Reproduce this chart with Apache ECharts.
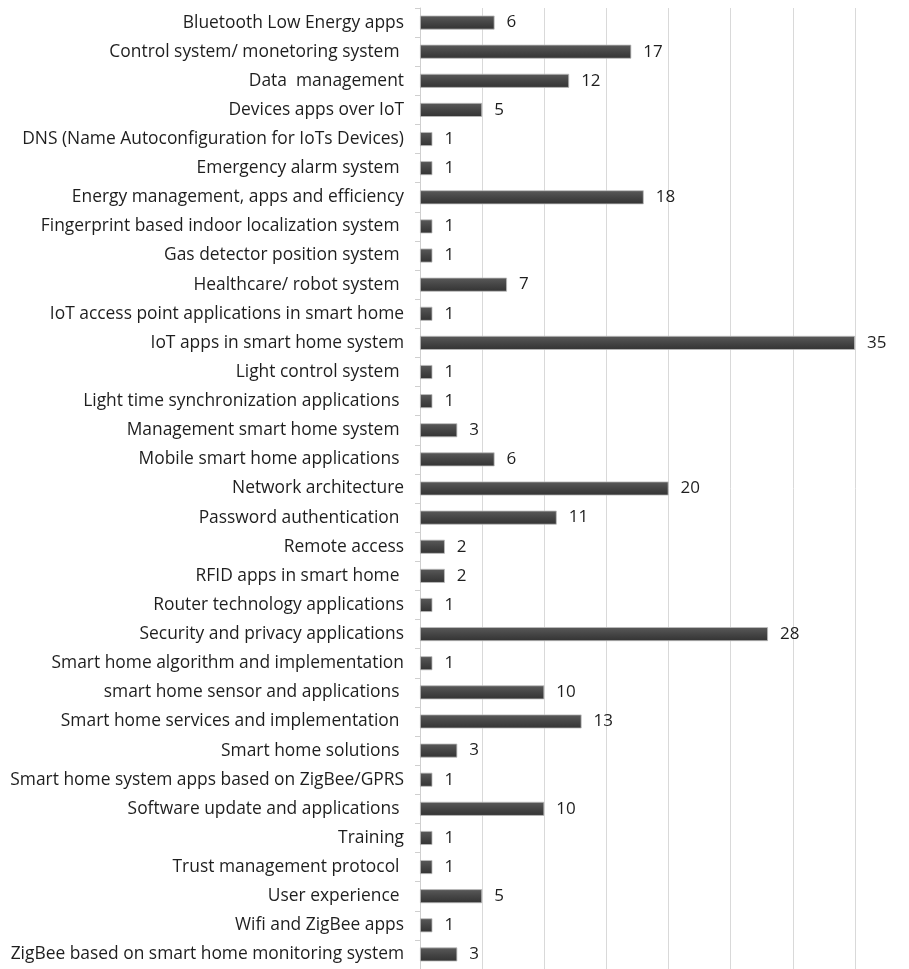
<!DOCTYPE html>
<html>
<head>
<meta charset="utf-8">
<script src="https://cdn.jsdelivr.net/npm/echarts@6/dist/echarts.min.js"></script>
<style>
  html, body { margin: 0; padding: 0; background: #fff; }
  #chart { width: 909px; height: 969px; }
</style>
</head>
<body>
<div id="chart"></div>
<script>
// Application areas, listed top to bottom
const categories = [
  "Bluetooth Low Energy apps",
  "Control system/ monetoring system ",
  "Data  management",
  "Devices apps over IoT",
  "DNS (Name Autoconfiguration for IoTs Devices)",
  "Emergency alarm system ",
  "Energy management, apps and efficiency",
  "Fingerprint based indoor localization system ",
  "Gas detector position system ",
  "Healthcare/ robot system ",
  "IoT access point applications in smart home",
  "IoT apps in smart home system",
  "Light control system ",
  "Light time synchronization applications ",
  "Management smart home system ",
  "Mobile smart home applications ",
  "Network architecture",
  "Password authentication ",
  "Remote access",
  "RFID apps in smart home ",
  "Router technology applications",
  "Security and privacy applications",
  "Smart home algorithm and implementation",
  "smart home sensor and applications ",
  "Smart home services and implementation ",
  "Smart home solutions ",
  "Smart home system apps based on ZigBee/GPRS",
  "Software update and applications ",
  "Training",
  "Trust management protocol ",
  "User experience ",
  "Wifi and ZigBee apps",
  "ZigBee based on smart home monitoring system"
];

// Number of papers per area
const counts = [6, 17, 12, 5, 1, 1, 18, 1, 1, 7, 1, 35, 1, 1, 3, 6, 20, 11, 2, 2, 1, 28, 1, 10, 13, 3, 1, 10, 1, 1, 5, 1, 3];

const FONT = "Open Sans";

const chart = echarts.init(document.getElementById("chart"), null, { renderer: "canvas" });

chart.setOption({
  animation: false,
  backgroundColor: "#ffffff",
  grid: { left: 420, width: 435, top: 8, height: 962, containLabel: false },
  xAxis: {
    type: "value",
    min: 0,
    max: 35,
    interval: 5,
    axisLine: { show: false },
    axisTick: { show: false },
    axisLabel: { show: false },
    splitLine: { show: true, lineStyle: { color: "#d9d9d9", width: 1 } }
  },
  yAxis: {
    type: "category",
    data: categories,
    inverse: true,
    axisLine: { show: true, lineStyle: { color: "#cfcfcf", width: 1 } },
    axisTick: { show: true, length: 5, inside: false, alignWithLabel: false, lineStyle: { color: "#cfcfcf" } },
    axisLabel: {
      margin: 16,
      fontFamily: FONT,
      fontSize: 17.4,
      color: "#1e1e1e"
    }
  },
  series: [{
    type: "bar",
    data: counts,
    barCategoryGap: "52%",
    itemStyle: {
      color: new echarts.graphic.LinearGradient(0, 0, 0, 1, [
        { offset: 0, color: "#5a5a5a" },
        { offset: 0.5, color: "#454545" },
        { offset: 1, color: "#333333" }
      ]),
      borderColor: "#bdbdbd",
      borderWidth: 0.8
    },
    label: {
      show: true,
      position: "right",
      distance: 12,
      fontFamily: FONT,
      fontSize: 17,
      color: "#1e1e1e"
    }
  }]
});
</script>
</body>
</html>
